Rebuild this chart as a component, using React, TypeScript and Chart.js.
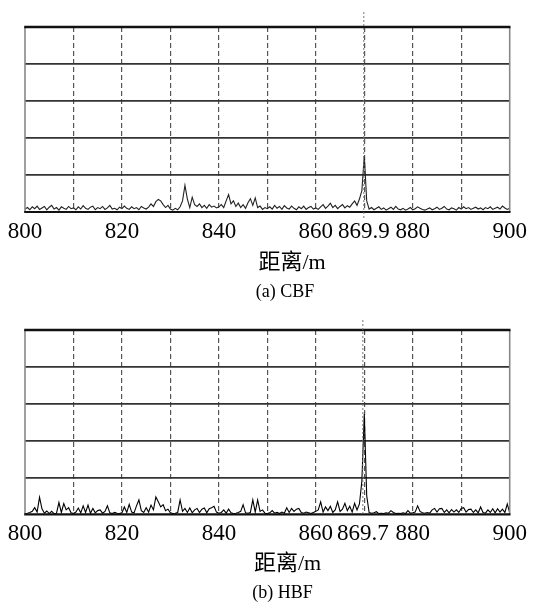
import React, { useEffect, useRef } from 'react';
import { Chart, registerables } from 'chart.js';

Chart.register(...registerables);

// ---- data ----
const START = 800;
const STEP = 0.5;

// CBF amplitude, 800 m .. 900 m every 0.5 m
const cbfValues = [
  0.08, 0.12, 0.06, 0.14, 0.09, 0.16, 0.07, 0.11, 0.15, 0.06, 0.13, 0.18, 0.08, 0.12, 0.05, 0.14, 0.10, 0.07, 0.15, 0.09, 0.11,
  0.06, 0.14, 0.08, 0.17, 0.10, 0.07, 0.13, 0.16, 0.06, 0.12, 0.09, 0.15, 0.07, 0.11, 0.18, 0.08, 0.10, 0.06, 0.13, 0.09,
  0.16, 0.10, 0.07, 0.14, 0.09, 0.12, 0.06, 0.15, 0.11, 0.08, 0.13, 0.22, 0.15, 0.28, 0.34, 0.30, 0.20, 0.12, 0.18, 0.08,
  0.05, 0.10, 0.06, 0.14, 0.30, 0.72, 0.35, 0.12, 0.40, 0.20, 0.15, 0.22, 0.12, 0.18, 0.10, 0.20, 0.13, 0.16, 0.11, 0.14,
  0.20, 0.12, 0.30, 0.47, 0.22, 0.30, 0.15, 0.24, 0.12, 0.20, 0.10, 0.25, 0.36, 0.18, 0.38, 0.12, 0.16, 0.07, 0.12, 0.09,
  0.14, 0.08, 0.18, 0.10, 0.15, 0.07, 0.17, 0.11, 0.08, 0.16, 0.10, 0.06, 0.14, 0.09, 0.16, 0.07, 0.12, 0.15, 0.08, 0.11,
  0.07, 0.14, 0.20, 0.10, 0.16, 0.24, 0.12, 0.18, 0.09, 0.15, 0.20, 0.11, 0.17, 0.13, 0.22, 0.30, 0.18, 0.35, 0.58, 1.52,
  0.30, 0.08, 0.12, 0.06, 0.10, 0.14, 0.07, 0.11, 0.05, 0.09, 0.13, 0.07, 0.15, 0.08, 0.06, 0.10, 0.05, 0.08, 0.12, 0.06,
  0.09, 0.14, 0.10, 0.07, 0.05, 0.08, 0.11, 0.06, 0.09, 0.13, 0.07, 0.10, 0.15, 0.08, 0.06, 0.11, 0.09, 0.05, 0.12, 0.08,
  0.14, 0.09, 0.12, 0.07, 0.10, 0.13, 0.08, 0.11, 0.06, 0.12, 0.09, 0.14, 0.07, 0.10, 0.13, 0.08, 0.16, 0.11, 0.07, 0.10,
];

// HBF amplitude, 800 m .. 900 m every 0.5 m
const hbfValues = [
  0.02, 0.03, 0.05, 0.08, 0.18, 0.06, 0.46, 0.15, 0.03, 0.09, 0.02, 0.08, 0.02, 0.03, 0.32, 0.05, 0.29, 0.12, 0.18, 0.04, 0.02,
  0.06, 0.17, 0.04, 0.23, 0.05, 0.25, 0.03, 0.16, 0.04, 0.10, 0.12, 0.03, 0.08, 0.23, 0.04, 0.02, 0.05, 0.03, 0.02, 0.04,
  0.20, 0.05, 0.27, 0.06, 0.04, 0.23, 0.39, 0.10, 0.05, 0.18, 0.06, 0.25, 0.12, 0.47, 0.34, 0.20, 0.26, 0.10, 0.14, 0.04,
  0.02, 0.03, 0.05, 0.39, 0.08, 0.16, 0.05, 0.17, 0.04, 0.12, 0.16, 0.05, 0.14, 0.17, 0.04, 0.15, 0.18, 0.22, 0.06, 0.03,
  0.05, 0.12, 0.03, 0.14, 0.04, 0.02, 0.03, 0.05, 0.08, 0.26, 0.04, 0.03, 0.05, 0.39, 0.06, 0.39, 0.08, 0.12, 0.03, 0.02,
  0.04, 0.10, 0.03, 0.05, 0.02, 0.06, 0.03, 0.18, 0.05, 0.16, 0.08, 0.14, 0.16, 0.05, 0.03, 0.06, 0.04, 0.02, 0.05, 0.08,
  0.12, 0.34, 0.06, 0.20, 0.10, 0.22, 0.05, 0.12, 0.34, 0.08, 0.14, 0.30, 0.10, 0.22, 0.06, 0.30, 0.12, 0.28, 0.90, 2.72,
  0.50, 0.05, 0.03, 0.04, 0.07, 0.02, 0.03, 0.02, 0.04, 0.03, 0.10, 0.05, 0.02, 0.03, 0.02, 0.04, 0.02, 0.10, 0.03, 0.04,
  0.06, 0.23, 0.08, 0.04, 0.03, 0.05, 0.03, 0.12, 0.16, 0.06, 0.15, 0.16, 0.05, 0.12, 0.04, 0.13, 0.06, 0.12, 0.05, 0.16,
  0.18, 0.06, 0.13, 0.14, 0.05, 0.12, 0.04, 0.20, 0.05, 0.03, 0.12, 0.05, 0.15, 0.04, 0.15, 0.06, 0.14, 0.05, 0.28, 0.04,
];

const xGridTicks = [800, 810, 820, 830, 840, 850, 860, 870, 880, 890, 900];
const xLabeledTicks = [800, 820, 840, 860, 880, 900];
const yGridTicks = [0, 1, 2, 3, 4, 5];
const cbfPeak = 869.9;
const hbfPeak = 869.7;
const axisTitle = '距离/m';
const cbfCaption = '(a) CBF';
const hbfCaption = '(b) HBF';

// ---- layout / style ----
const W = 543;
const SERIF = "'Liberation Serif', 'Times New Roman', serif";
const TRANSPARENT = 'rgba(0,0,0,0)';

type PanelProps = {
  values: number[];
  peak: number;
  caption: string;
  height: number;
  bottomPad: number;
  titleXY: [number, number];
  captionXY: [number, number];
  markerRange: [number, number];
  lineColor: string;
};

function Panel(props: PanelProps) {
  const ref = useRef<HTMLCanvasElement | null>(null);
  useEffect(() => {
    const { values, peak, caption, bottomPad, titleXY, captionXY, markerRange, lineColor } = props;
    const data = values.map((y, i) => ({ x: START + i * STEP, y }));
    const overlay = {
      id: 'overlay',
      afterDraw(chart: any) {
        const { ctx, chartArea: a, scales } = chart;
        ctx.save();
        const seg = (x1: number, y1: number, x2: number, y2: number, c: string, w: number) => {
          ctx.beginPath();
          ctx.strokeStyle = c;
          ctx.lineWidth = w;
          ctx.moveTo(x1, y1);
          ctx.lineTo(x2, y2);
          ctx.stroke();
        };
        // frame
        seg(a.left, a.top, a.left, a.bottom, '#888', 1.6);
        seg(a.right, a.top, a.right, a.bottom, '#888', 1.6);
        seg(a.left - 0.8, a.top, a.right + 0.8, a.top, '#111', 2.5);
        seg(a.left - 0.8, a.bottom, a.right + 0.8, a.bottom, '#111', 2.2);
        // peak marker
        const px = scales.x.getPixelForValue(peak);
        ctx.setLineDash([2, 2]);
        seg(px, markerRange[0], px, markerRange[1], '#777', 1);
        ctx.setLineDash([]);
        // texts
        ctx.fillStyle = '#000';
        ctx.textAlign = 'center';
        ctx.textBaseline = 'middle';
        ctx.font = "22px 'Liberation Serif', 'Noto Sans CJK SC', serif";
        ctx.fillText(axisTitle, titleXY[0], titleXY[1]);
        ctx.font = "18px 'Liberation Serif', serif";
        ctx.fillText(caption, captionXY[0], captionXY[1]);
        ctx.restore();
      },
    };
    const chart = new Chart(ref.current as HTMLCanvasElement, {
      type: 'line',
      data: {
        datasets: [
          {
            data,
            borderColor: lineColor,
            borderWidth: 1.1,
            pointRadius: 0,
            tension: 0,
            fill: false,
          },
        ],
      },
      options: {
        responsive: false,
        animation: false,
        devicePixelRatio: 1,
        layout: { padding: { left: 25, right: 33.3, top: 27, bottom: bottomPad } },
        plugins: { legend: { display: false }, tooltip: { enabled: false }, title: { display: false } },
        scales: {
          x: {
            type: 'linear',
            min: 800,
            max: 900,
            afterBuildTicks: (s: any) => {
              s.ticks = xGridTicks
                .concat([peak])
                .sort((p, q) => p - q)
                .map((v) => ({ value: v }));
            },
            ticks: {
              autoSkip: false,
              maxRotation: 0,
              minRotation: 0,
              padding: 6,
              color: '#000',
              font: { family: SERIF, size: 23 },
              callback: (v: any) =>
                v === peak ? String(peak) : xLabeledTicks.includes(v) ? String(v) : '',
            },
            grid: {
              drawTicks: false,
              lineWidth: 1.2,
              color: (c: any) =>
                c.tick && (c.tick.value === 800 || c.tick.value === 900 || c.tick.value === peak)
                  ? TRANSPARENT
                  : '#555',
            },
            border: { display: false, dash: [5, 3] },
          },
          y: {
            type: 'linear',
            min: 0,
            max: 5,
            afterBuildTicks: (s: any) => {
              s.ticks = yGridTicks.map((v) => ({ value: v }));
            },
            ticks: { display: false },
            grid: {
              drawTicks: false,
              lineWidth: 1.7,
              color: (c: any) =>
                c.tick && (c.tick.value === 0 || c.tick.value === 5) ? TRANSPARENT : '#333',
            },
            border: { display: false },
          },
        },
      },
      plugins: [overlay],
    } as any);
    return () => chart.destroy();
  }, []);
  return <canvas ref={ref} width={W} height={props.height} style={{ display: 'block' }} />;
}

export default function App() {
  return (
    <div style={{ position: 'absolute', left: 0, top: 0, width: W, background: '#fff' }}>
      <Panel
        values={cbfValues}
        peak={cbfPeak}
        caption={cbfCaption}
        height={303}
        bottomPad={51.4}
        titleXY={[292, 263]}
        captionXY={[285, 292]}
        markerRange={[12, 219]}
        lineColor="#222"
      />
      <Panel
        values={hbfValues}
        peak={hbfPeak}
        caption={hbfCaption}
        height={302}
        bottomPad={51.1}
        titleXY={[287.5, 261]}
        captionXY={[282.5, 290]}
        markerRange={[17, 213]}
        lineColor="#000"
      />
    </div>
  );
}
